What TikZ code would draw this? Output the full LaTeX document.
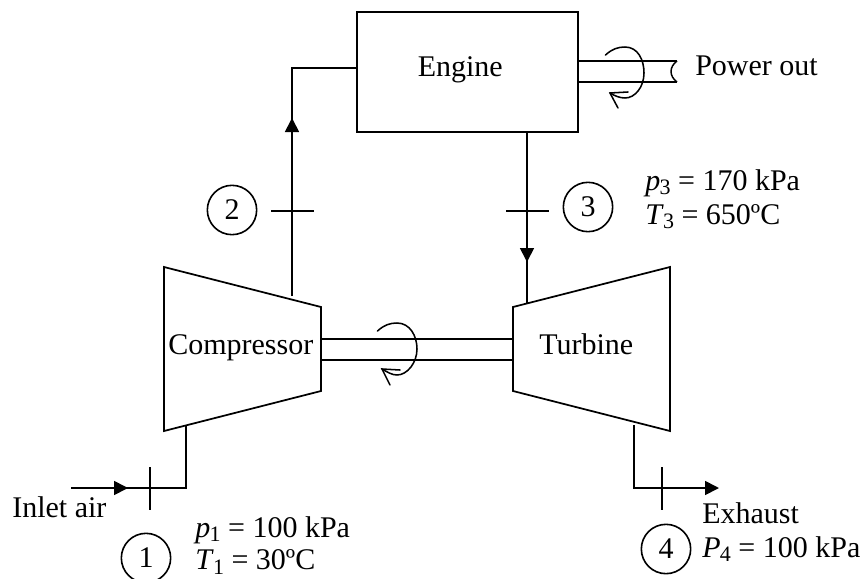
\documentclass[tikz,border=0pt]{standalone}
\usepackage{fontspec}
\setmainfont{Liberation Serif}
\usetikzlibrary{arrows.meta}
\tikzset{
  ln/.style={draw=black,line width=1.3pt,line cap=butt,line join=miter},
  thin ln/.style={draw=black,line width=1.1pt},
  flow/.style={ln,-{Triangle[length=10.5pt,width=10.5pt]}},
  statecircle/.style={circle,draw=black,line width=1.2pt,minimum size=37pt,inner sep=0pt,font=\fontsize{22.5}{24}\selectfont},
  lbl/.style={inner sep=0pt,anchor=base west,font=\fontsize{22.5}{24}\selectfont},
  engbox/.style={draw=black,line width=1.3pt,minimum width=165.75pt,minimum height=90pt,inner sep=0pt},
  openarrow/.style={draw=black,line width=1.15pt,line cap=round}
}
\newcommand{\symb}[2]{\textit{#1}\kern-0.5pt\raisebox{-0.16em}{\fontsize{16.5}{17}\selectfont #2}}
\newcommand{\dgt}[1]{\raisebox{-1.5pt}{#1}}
\begin{document}
\begin{tikzpicture}[x=0.75pt,y=-0.75pt]
\useasboundingbox (0,0) rectangle (862,578);
% engine
\node[engbox] (engine) at (467.5,72) {};
\node[lbl] (enginetxt) at (417.5,76) {Engine};
% compressor and turbine
\coordinate (c1) at (164,267); \coordinate (c2) at (321,307);
\coordinate (c3) at (321,391); \coordinate (c4) at (164,431);
\coordinate (t1) at (513,307); \coordinate (t2) at (670,267);
\coordinate (t3) at (670,431); \coordinate (t4) at (513,391);
\draw[ln] (c1)--(c2)--(c3)--(c4)--cycle;
\draw[ln] (t1)--(t2)--(t3)--(t4)--cycle;
\node[lbl] (comp) at (168,354) {Compressor};
\node[lbl] (turb) at (539,354) {Turbine};
% shaft between
\coordinate (sa) at (321,339); \coordinate (sb) at (513,339);
\coordinate (sc) at (321,360); \coordinate (sd) at (513,360);
\draw[ln] (sa)--(sb);
\draw[ln] (sc)--(sd);
\draw[openarrow] (377.5,331) .. controls (384,325) and (390,323) .. (397,323)
  .. controls (410,323) and (417,336) .. (417,349)
  .. controls (417,363) and (407,375) .. (397,375)
  .. controls (392,375) and (387,372) .. (382,369);
\draw[openarrow] (400,370) -- (382,369) -- (390,385);
% power out shaft
\coordinate (pa) at (578,61); \coordinate (pb) at (677,61);
\coordinate (pc) at (578,82); \coordinate (pd) at (677,82);
\draw[ln] (pa)--(pb);
\draw[ln] (pc)--(pd);
\draw[thin ln] (pb) .. controls (669,67) and (669,76) .. (pd);
\draw[openarrow] (605.5,55) .. controls (612,49) and (618,47) .. (625,47)
  .. controls (638,47) and (644,60) .. (644,73)
  .. controls (644,87) and (635,98) .. (625,98)
  .. controls (620,98) and (615,96) .. (610,93);
\draw[openarrow] (628,92) -- (610,93) -- (618,108);
% stream lines
\coordinate (s2a) at (292,296); \coordinate (s2b) at (292,68);
\draw[flow] (s2a) -- (292,118);
\draw[ln] (292,125) |- (engine.west |- s2b);
\coordinate (s3a) at (527,132); \coordinate (s3b) at (527,304);
\draw[flow] (s3a) -- (527,262);
\draw[ln] (527,255) -- (s3b);
\coordinate (s1a) at (71,488); \coordinate (s1b) at (186,425);
\draw[flow] (s1a) -- (128,488);
\draw[ln] (120,488) -| (s1b);
\coordinate (s4a) at (634,425); \coordinate (s4b) at (719,488);
\draw[flow] (s4a) |- (s4b);
% ticks
\draw[ln] (271,211) -- (314,211);
\draw[ln] (506,211) -- (549,211);
\draw[ln] (150,467) -- (150,510);
\draw[ln] (662,467) -- (662,510);
% circles
\node[statecircle] (n1) at (146,558) {\dgt{1}};
\node[statecircle] (n2) at (232,210) {\dgt{2}};
\node[statecircle] (n3) at (588,207) {\dgt{3}};
\node[statecircle] (n4) at (666,549) {\dgt{4}};
% labels
\node[lbl] (pw) at (695,75) {Power out};
\node[lbl] (inlet) at (12,517) {Inlet air};
\node[lbl] (exh) at (702,523) {Exhaust};
\node[lbl] (p1) at (195,537) {\symb{p}{1} = 100 kPa};
\node[lbl] (T1) at (195,569.5) {\symb{T}{1} = 30ºC};
\node[lbl] (p3) at (645,190) {\symb{p}{3} = 170 kPa};
\node[lbl] (T3) at (645,224) {\symb{T}{3} = 650ºC};
\node[lbl] (P4) at (702,557) {\symb{P}{4} = 100 kPa};
\end{tikzpicture}
\end{document}
